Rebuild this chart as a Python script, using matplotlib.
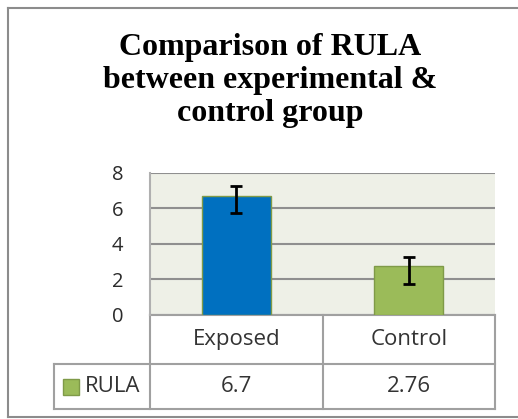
import matplotlib.pyplot as plt
import matplotlib.transforms as mtransforms
from matplotlib.lines import Line2D

# data
categories = ["Exposed", "Control"]
rula = [6.7, 2.76]
err_minus = [0.95, 1.0]
err_plus = [0.55, 0.5]
series_name = "RULA"
value_labels = ["6.7", "2.76"]
title_lines = ["Comparison of RULA", "between experimental &", "control group"]
yticks = [0, 2, 4, 6, 8]

W, H = 518, 419
fig = plt.figure(figsize=(W / 100, H / 100), dpi=100)

# outer chart frame: left, top, bottom only (right side runs off the picture)
fx0, fy0, fy1 = 8 / W, 1 - 8 / H, 1 - 417 / H
for xs, ys in [([fx0, 1.1], [fy0, fy0]), ([fx0, fx0], [fy0, fy1]),
               ([fx0, 1.1], [fy1, fy1])]:
    fig.add_artist(Line2D(xs, ys, transform=fig.transFigure,
                          color="#8c8c8c", linewidth=1.5))

# title
for line, ybase in zip(title_lines, [55, 88, 121]):
    fig.text(270 / W, 1 - ybase / H, line, ha="center", va="baseline",
             fontsize=23, fontweight="bold", family="Liberation Serif")

ax = fig.add_axes([150 / W, 1 - 315 / H, 345 / W, 142.3 / H])
ax.set_facecolor("#eef0e7")

x = list(range(len(categories)))
bar_colors = ["#0070c0", "#9bbb59"]
ax.bar(x, rula, width=0.4, color=bar_colors, edgecolor="#7f9a48",
       linewidth=1, zorder=3)
ax.errorbar(x, rula, yerr=[err_minus, err_plus], fmt="none", ecolor="black",
            elinewidth=2, capsize=4.5, capthick=2, zorder=4)

ax.set_xlim(-0.5, 1.5)
ax.set_ylim(0, 8)
ax.set_yticks(yticks)
ax.set_xticks([])
ax.tick_params(axis="y", length=0, pad=19, labelsize=14.5)
for lab in ax.get_yticklabels():
    lab.set_family("Open Sans")
    lab.set_color("#2b2b2b")
ax.grid(axis="y", color="#8f8f8f", linewidth=1.5, zorder=1)
ax.set_axisbelow(True)
for s in ["top", "right", "bottom"]:
    ax.spines[s].set_visible(False)
ax.spines["left"].set_color("#b0b0b0")
ax.spines["left"].set_linewidth(1.5)

# data table under the axis
tr = mtransforms.blended_transform_factory(ax.transData, ax.transAxes)
lc = "#a0a0a0"
left_edge = -1.057
row1 = -0.344
row2 = -0.661
kw = dict(transform=tr, clip_on=False, color=lc, linewidth=1.5)
ax.plot([-0.5, 1.5], [0, 0], **kw)
for xe in [-0.5 + i for i in range(len(categories) + 1)]:
    ax.plot([xe, xe], [0, row2], **kw)
ax.plot([left_edge, 1.5], [row1, row1], **kw)
ax.plot([left_edge, 1.5], [row2, row2], **kw)
ax.plot([left_edge, left_edge], [row1, row2], **kw)

tkw = dict(transform=tr, va="center", fontsize=16, family="Open Sans",
           color="#333333")
for xi, cat, val in zip(x, categories, value_labels):
    ax.text(xi, (0 + row1) / 2, cat, ha="center", **tkw)
    ax.text(xi, (row1 + row2) / 2, val, ha="center", **tkw)

ax.plot([-0.958], [(row1 + row2) / 2], marker="s", markersize=11,
        color="#9bbb59", markeredgecolor="#7f9a48", transform=tr,
        clip_on=False, linestyle="none")
ax.text(-0.877, (row1 + row2) / 2, series_name, ha="left", **tkw)

fig.savefig("out.png", dpi=100)
